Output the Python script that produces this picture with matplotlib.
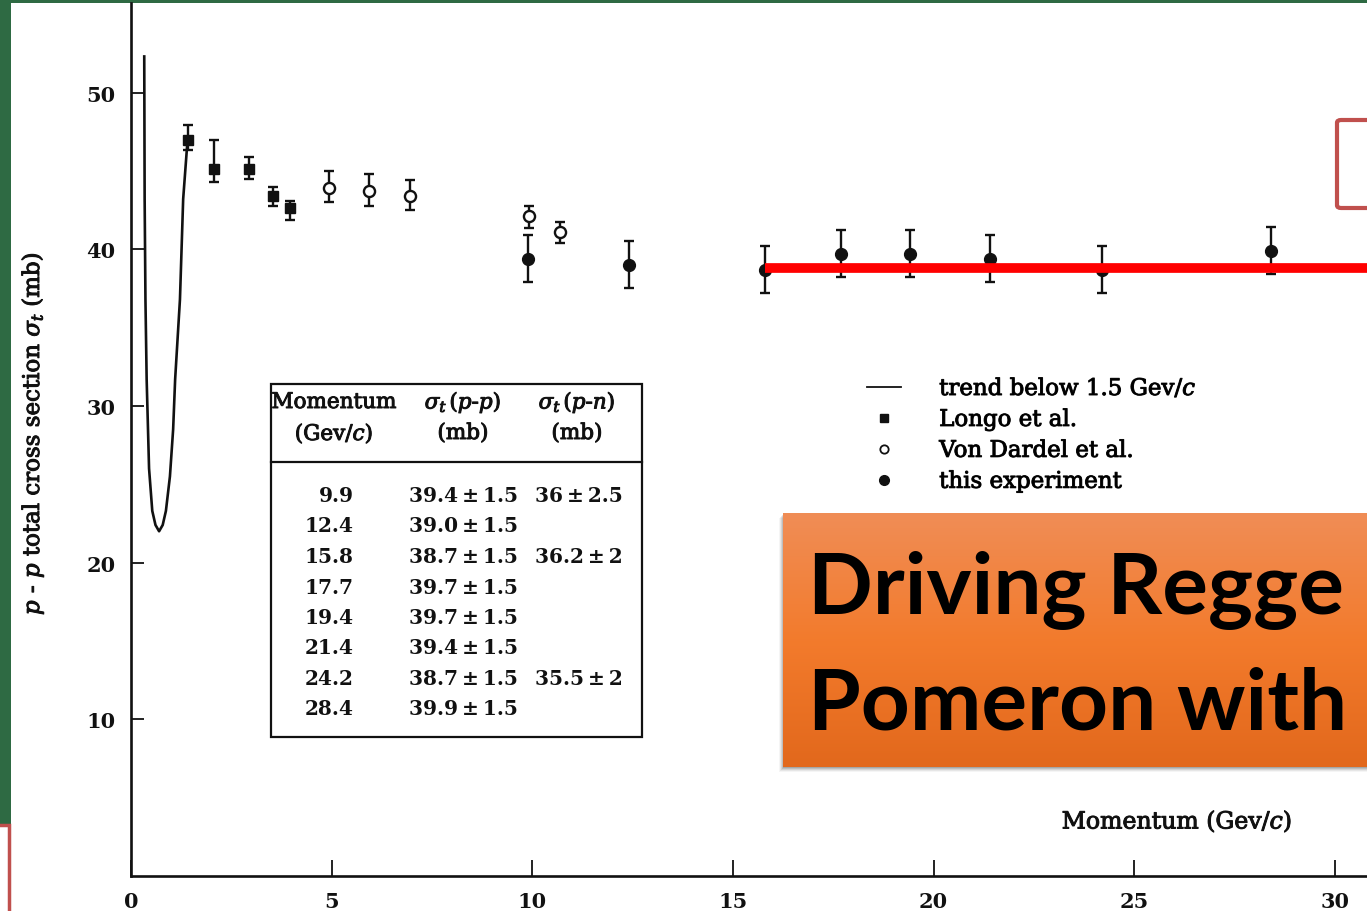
import matplotlib

matplotlib.use("Agg")
import matplotlib.pyplot as plt
import matplotlib.patheffects as pe
import numpy as np
from matplotlib.lines import Line2D
from matplotlib.patches import FancyBboxPatch, Rectangle

plt.rcParams["font.family"] = "DejaVu Serif"
plt.rcParams["mathtext.fontset"] = "dejavuserif"

W, H = 1367, 912
INK = "#111111"
# printed-page ink is a little heavier than a clean font outline
INKY = [pe.withStroke(linewidth=0.7, foreground=INK)]

# smooth trend of sigma_t(p-p) below 1.5 GeV/c
trend_p = [0.33, 0.34, 0.36, 0.39, 0.45, 0.53, 0.61, 0.70, 0.79, 0.87, 0.97, 1.05, 1.10, 1.22, 1.30, 1.41]
trend_sigma = [52.3, 43.2, 36.8, 31.7, 26.0, 23.3, 22.4, 22.0, 22.4, 23.3, 25.5, 28.5, 31.7, 36.8, 43.2, 47.0]

# Longo et al.
longo_p = [1.41, 2.08, 2.95, 3.55, 3.96]
longo_sigma = [47.0, 45.1, 45.1, 43.4, 42.6]
longo_err_lo = [0.65, 0.8, 0.65, 0.65, 0.75]
longo_err_hi = [0.95, 1.9, 0.8, 0.55, 0.5]

# Von Dardel et al.
dardel_p = [4.93, 5.94, 6.94, 9.93, 10.68]
dardel_sigma = [43.9, 43.7, 43.4, 42.1, 41.1]
dardel_err_lo = [0.9, 0.95, 0.9, 0.75, 0.7]
dardel_err_hi = [1.1, 1.1, 1.0, 0.65, 0.65]

# this experiment (also listed in the inset table)
exp_p = [9.9, 12.4, 15.8, 17.7, 19.4, 21.4, 24.2, 28.4]
exp_sigma_pp = [39.4, 39.0, 38.7, 39.7, 39.7, 39.4, 38.7, 39.9]
exp_err_pp = [1.5, 1.5, 1.5, 1.5, 1.5, 1.5, 1.5, 1.5]
exp_sigma_pn = [36, None, 36.2, None, None, None, 35.5, None]
exp_err_pn = [2.5, None, 2, None, None, None, 2, None]

# flat high-energy level
flat_start = 15.8
flat_level = 38.8

x_ticks = [0, 5, 10, 15, 20, 25, 30]
y_ticks = [10, 20, 30, 40, 50]


def fpx(x, y):
    """pixel position (from top-left) -> figure fraction"""
    return x / W, 1 - y / H


fig = plt.figure(figsize=(W / 100, H / 100), dpi=100)
fig.patch.set_facecolor("#2e6a43")

# paper page
fig.add_artist(Rectangle(fpx(11, H), (W - 11) / W, (H - 4) / H, transform=fig.transFigure,
                         facecolor="white", edgecolor="none", zorder=-2))
# slide frame peeking in at lower left
fig.add_artist(Rectangle(fpx(-40, H + 40), 49 / W, (H + 40 - 826) / H, transform=fig.transFigure,
                         facecolor="white", edgecolor="#c0504d", linewidth=2.5, zorder=-1))

# main axes: x = 0 at px 131, 40.13 px per GeV/c ; y = 0 at px 877, 15.67 px per mb
left, bottom = fpx(131, 877)
ax = fig.add_axes([left, bottom, 1 - left, (877 - 4) / H])
ax.set_facecolor("none")
ax.set_xlim(0, (W - 131) / 40.13)
ax.set_ylim(0, (877 - 4) / 15.67)
for side in ("top", "right"):
    ax.spines[side].set_visible(False)
for side in ("left", "bottom"):
    ax.spines[side].set_linewidth(1.9)
    ax.spines[side].set_color(INK)

ax.set_xticks(x_ticks)
ax.set_yticks(y_ticks)
ax.tick_params(axis="x", direction="in", length=11.5, width=1.3, color=INK, pad=11,
               labelsize=15)
ax.tick_params(axis="y", direction="in", length=9, width=1.3, color=INK, pad=11,
               labelsize=15)
for lab in ax.get_xticklabels() + ax.get_yticklabels():
    lab.set_fontweight("bold")
    lab.set_color(INK)

ax.plot(trend_p, trend_sigma, color=INK, lw=1.9, zorder=3)

ebkw = dict(ecolor=INK, elinewidth=1.7, capsize=3.5, capthick=1.7, linestyle="none", zorder=4)
ax.errorbar(longo_p, longo_sigma, yerr=[longo_err_lo, longo_err_hi], fmt="s",
            ms=6.5, mfc=INK, mec=INK, **ebkw)
ax.errorbar(dardel_p, dardel_sigma, yerr=[dardel_err_lo, dardel_err_hi], fmt="o",
            ms=8, mfc="white", mec=INK, mew=1.7, **ebkw)
ax.errorbar(exp_p, exp_sigma_pp, yerr=exp_err_pp, fmt="o",
            ms=8.5, mfc=INK, mec=INK, **ebkw)

ax.hlines(flat_level, flat_start, 40, color="#ff0000", lw=7, zorder=6, capstyle="butt")

ylab = ax.set_ylabel(r"$p$ - $p$ total cross section $\sigma_t$ (mb)", fontsize=16.5, color=INK)
ylab.set_path_effects(INKY)
ax.yaxis.set_label_coords(-(131 - 46) / (W - 131), (877 - 435) / 873)
ax.text(*fpx(1177, 822), r"Momentum (Gev/$c$)", transform=fig.transFigure, fontsize=17,
        ha="center", va="center", color=INK, path_effects=INKY)

handles = [
    Line2D([], [], color=INK, lw=1.3),
    Line2D([], [], color=INK, marker="s", ms=6, ls="none"),
    Line2D([], [], color=INK, marker="o", ms=6, mfc="white", mew=1.3, ls="none"),
    Line2D([], [], color=INK, marker="o", ms=7, ls="none"),
]
labels = [r"trend below 1.5 Gev/$c$", "Longo et al.", "Von Dardel et al.", "this experiment"]
leg = ax.legend(handles, labels, loc="upper left", bbox_to_anchor=fpx(867, 378),
                bbox_transform=fig.transFigure, frameon=False, fontsize=16.5, handlelength=1.5,
                handletextpad=1.65, labelspacing=0.39, borderpad=0, borderaxespad=0)
for t in leg.get_texts():
    t.set_path_effects(INKY)

# inset table
t_left, t_top, t_right, t_bot, t_div = 271, 385, 642, 738, 463
fig.add_artist(Rectangle(fpx(t_left, t_bot), (t_right - t_left) / W, (t_bot - t_top) / H,
                         transform=fig.transFigure, facecolor="white", edgecolor=INK,
                         linewidth=1.6, zorder=5))
fig.add_artist(Line2D([t_left / W, t_right / W], [1 - t_div / H] * 2,
                      transform=fig.transFigure, color=INK, lw=1.6, zorder=5))
head = [("Momentum", "(Gev/$c$)", 334),
        (r"$\sigma_t\,(p$-$p)$", "(mb)", 463),
        (r"$\sigma_t\,(p$-$n)$", "(mb)", 577)]
for top, sub, cx in head:
    fig.text(*fpx(cx, 403), top, ha="center", va="center", fontsize=15.5, color=INK,
             zorder=6, path_effects=INKY)
    fig.text(*fpx(cx, 434), sub, ha="center", va="center", fontsize=15.5, color=INK,
             zorder=6, path_effects=INKY)

pm = "\u2009\u00b1\u2009"
for i, (p, s, e, s2, e2) in enumerate(zip(exp_p, exp_sigma_pp, exp_err_pp, exp_sigma_pn, exp_err_pn)):
    y = 496 + 30.5 * i
    kw = dict(va="center", fontsize=14.5, fontweight="bold", color=INK, zorder=6)
    fig.text(*fpx(354, y), f"{p:.1f}", ha="right", **kw)
    fig.text(*fpx(409, y), f"{s:.1f}{pm}{e:.1f}", ha="left", **kw)
    if s2 is not None:
        fig.text(*fpx(535, y), f"{s2:g}{pm}{e2:g}", ha="left", **kw)

# orange title banner with soft drop shadow
b_left, b_top, b_bot = 783, 514, 768
for k, a in zip(range(5, 0, -1), [0.04, 0.06, 0.08, 0.10, 0.12]):
    fig.add_artist(Rectangle(fpx(b_left - k + 1, b_bot + k), (W - b_left + 20) / W, (b_bot - b_top) / H,
                             transform=fig.transFigure, facecolor="black", alpha=a,
                             edgecolor="none", zorder=7))
banner = fig.add_axes([b_left / W, 1 - b_bot / H, (W - b_left) / W, (b_bot - b_top) / H])
banner.set_zorder(8)
grad = np.array([[0.941, 0.553, 0.337], [0.953, 0.482, 0.173], [0.886, 0.408, 0.110]])
rows = np.linspace(0, 1, 200)
img = np.empty((200, 1, 3))
for c in range(3):
    img[:, 0, c] = np.interp(rows, [0, 0.5, 1], grad[:, c])
banner.imshow(img, aspect="auto", extent=(0, 1, 0, 1), origin="upper")
banner.set_axis_off()
for txt, base in (("Driving Regge", 613), ("Pomeron with", 730)):
    fig.text(*fpx(808, base), txt, family="Lato", fontweight="bold", fontsize=61.5,
             color="black", ha="left", va="baseline", zorder=9)

# second slide box at upper right
fig.add_artist(FancyBboxPatch(fpx(1337, 209), 80 / W, 88 / H, boxstyle="round,pad=0,rounding_size=0.003",
                              transform=fig.transFigure, facecolor="white", edgecolor="#c0504d",
                              linewidth=3, zorder=7))

fig.savefig("out.png", dpi=100)
